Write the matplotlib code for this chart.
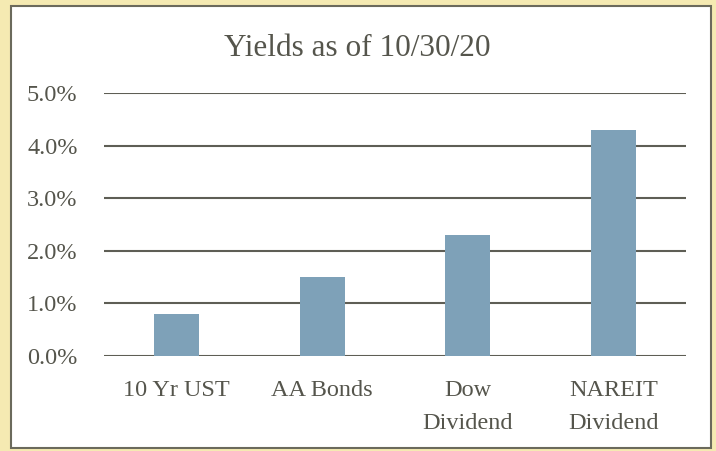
import matplotlib.pyplot as plt
from matplotlib.patches import Rectangle

# data
categories = ['10 Yr UST', 'AA Bonds', 'Dow\nDividend', 'NAREIT\nDividend']
yields = [0.8, 1.5, 2.3, 4.3]
yticks = [0, 1, 2, 3, 4, 5]
ytick_labels = ['0.0%', '1.0%', '2.0%', '3.0%', '4.0%', '5.0%']

plt.rcParams['font.family'] = ['Liberation Serif', 'DejaVu Serif']
txt_color = '#55554c'
line_color = '#5e5e55'

fig = plt.figure(figsize=(7.16, 4.51), dpi=100)
fig.patch.set_facecolor('#f5eab2')

# white panel with border
panel = Rectangle((11/716, 3/451), 700/716, 442/451, transform=fig.transFigure,
                  facecolor='white', edgecolor='#6b6a5c', linewidth=1.5, zorder=-10)
fig.patches.append(panel)

ax = fig.add_axes([104/716, 1-356/451, 582/716, 263/451])
ax.set_facecolor('none')

x = range(len(categories))
ax.bar(x, yields, width=0.31, color='#7ea1b8', zorder=3)

ax.set_xlim(-0.5, len(categories) - 0.5)
ax.set_ylim(0, 5)
ax.set_yticks(yticks)
ax.set_yticklabels(ytick_labels)
ax.set_xticks(list(x))
ax.set_xticklabels(categories, linespacing=1.8, va='top')
ax.tick_params(axis='both', length=0, labelsize=17.5, colors=txt_color)
ax.tick_params(axis='y', pad=19)
ax.tick_params(axis='x', pad=17)

ax.yaxis.grid(True, color=line_color, linewidth=1.5, zorder=1)
for s in ax.spines.values():
    s.set_visible(False)

fig.text(357/716, 1-49/451, 'Yields as of 10/30/20', ha='center', va='center',
         fontsize=22.5, color=txt_color)

fig.savefig('out.png', dpi=100)
